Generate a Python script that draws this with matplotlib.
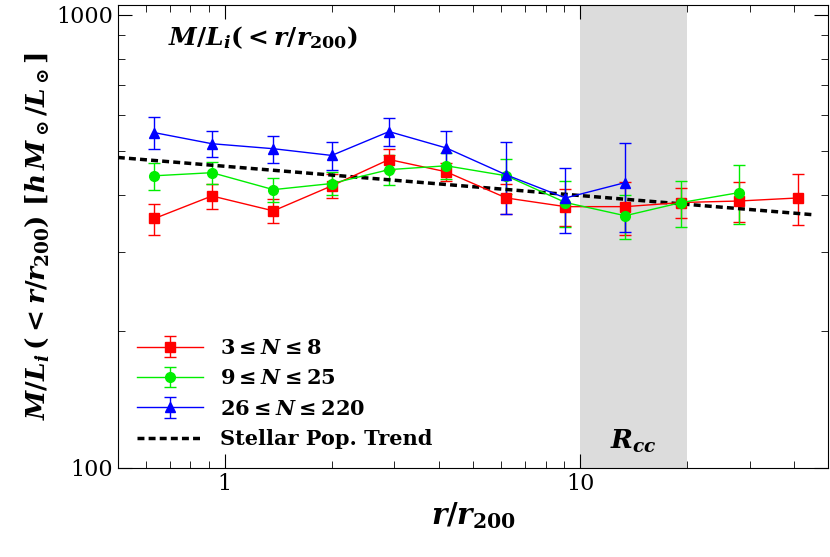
import matplotlib
matplotlib.use("Agg")
import matplotlib.pyplot as plt
from matplotlib.ticker import FixedLocator, NullFormatter

plt.rcParams["mathtext.fontset"] = "custom"
plt.rcParams["mathtext.it"] = "DejaVu Serif:italic:bold"
plt.rcParams["mathtext.rm"] = "DejaVu Serif:bold"
plt.rcParams["mathtext.bf"] = "DejaVu Serif:bold"
plt.rcParams["font.family"] = "DejaVu Serif"

# data
x = [0.634, 0.92, 1.37, 2.0, 2.9, 4.2, 6.2, 9.1, 13.4, 19.3, 28.1, 41.0]
red = [355, 398, 369, 419, 479, 450, 394, 377, 377, 385, 388, 394]
red_err = [28, 25, 22, 25, 25, 20, 30, 35, 50, 30, 40, 50]
green = [441, 448, 411, 424, 455, 464, 441, 385, 360, 385, 405]
green_err = [30, 25, 25, 25, 35, 30, 40, 45, 40, 45, 60]
blue = [549, 519, 506, 489, 552, 508, 443, 394, 426]
blue_err = [45, 35, 35, 35, 40, 45, 80, 65, 95]
trend_x = [0.5, 45.0]
trend_y = [484, 362]

fig = plt.figure(figsize=(8.3, 5.57), dpi=100)
ax = fig.add_axes([0.142, 0.160, 0.856, 0.831])

ax.axvspan(10, 20, color="#dcdcdc", zorder=0, lw=0)

h1 = ax.errorbar(x, red, yerr=red_err, color="red", marker="s", ms=7, lw=1,
                 capsize=4, elinewidth=1, label=r"$3 \leq N \leq 8$")
h2 = ax.errorbar(x[:11], green, yerr=green_err, color="#00ee00", marker="o", ms=7, lw=1,
                 capsize=4, elinewidth=1, label=r"$9 \leq N \leq 25$")
h3 = ax.errorbar(x[:9], blue, yerr=blue_err, color="blue", marker="^", ms=7, lw=1,
                 capsize=4, elinewidth=1, label=r"$26 \leq N \leq 220$")
h4, = ax.plot(trend_x, trend_y, color="black", ls=(0, (2, 1.2)), lw=2.5,
              label="Stellar Pop. Trend")

ax.set_xscale("log")
ax.set_yscale("log")
ax.set_xlim(0.5, 50)
ax.set_ylim(100, 1050)
ax.yaxis.set_major_locator(FixedLocator([100, 1000]))
ax.set_yticklabels(["100", "1000"])
ax.yaxis.set_minor_formatter(NullFormatter())
ax.set_xticks([1, 10])
ax.set_xticklabels(["1", "10"])
ax.tick_params(which="both", direction="in", top=True, right=True, labelsize=16)
ax.tick_params(which="major", length=10)
ax.tick_params(which="minor", length=5)

ax.set_xlabel(r"$r/r_{200}$", fontsize=21)
ax.set_ylabel(r"$M/L_i\,(<r/r_{200})\ [h\,M_\odot/L_\odot]$", fontsize=19)
ax.text(0.07, 0.93, r"$M/L_i(<r/r_{200})$", transform=ax.transAxes,
        fontsize=18, va="center")
ax.text(14.1, 107, r"$R_{cc}$", fontsize=19, ha="center", va="bottom")

ax.legend([h1, h2, h3, h4], [h.get_label() for h in [h1, h2, h3, h4]],
          loc="lower left", bbox_to_anchor=(0.0, 0.0), frameon=False,
          prop={"size": 15, "weight": "bold"}, handlelength=3.2)

fig.savefig("out.png", dpi=100)
